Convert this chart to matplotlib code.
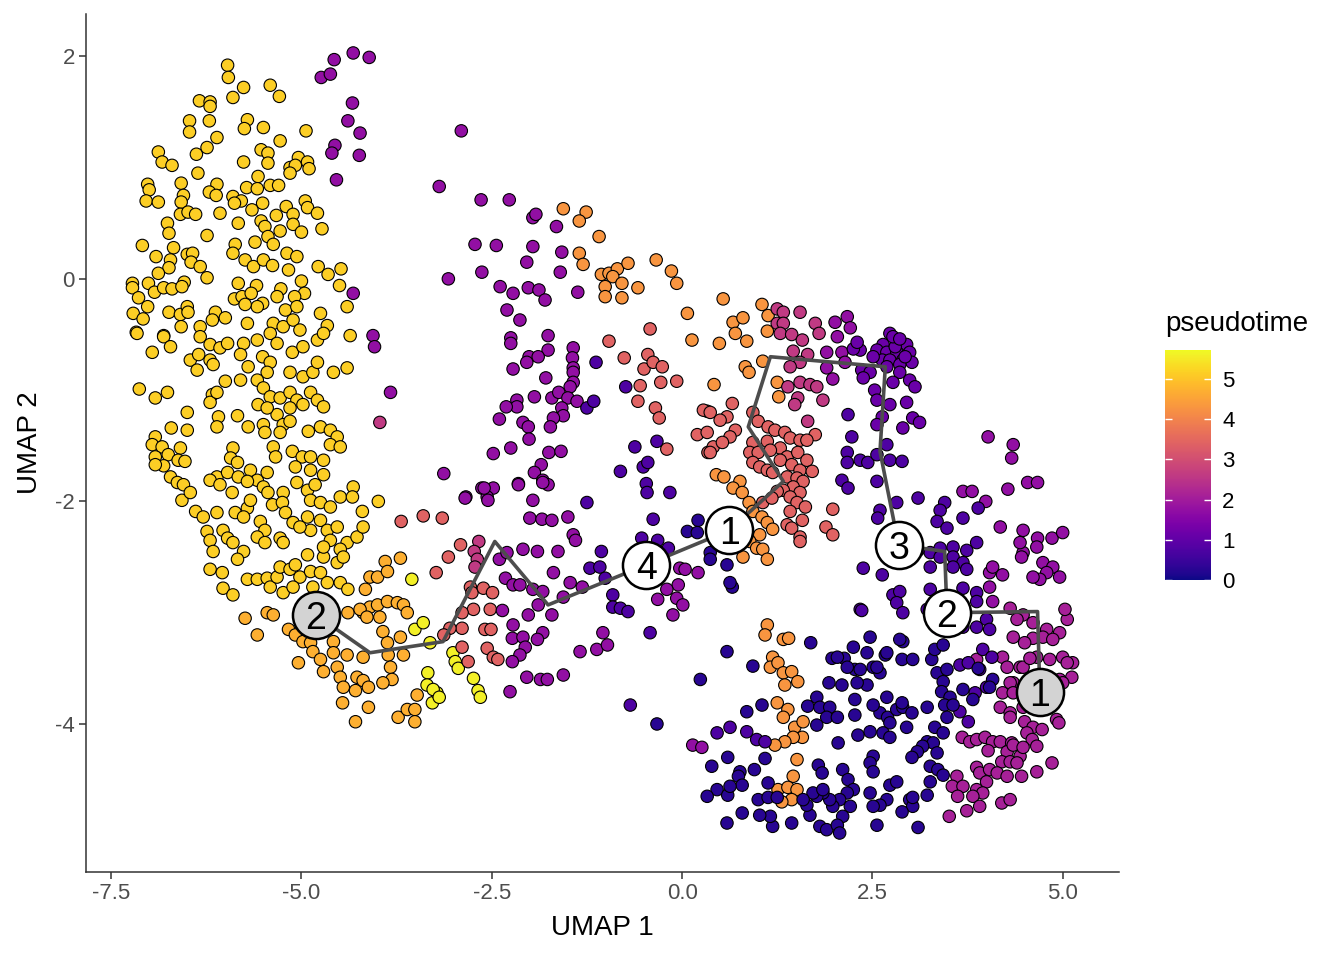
import numpy as np
import matplotlib.pyplot as plt

plt.rcParams['font.family'] = ['Liberation Sans', 'DejaVu Sans']
plt.rcParams['axes.unicode_minus'] = False

crescent_cells = [
    (-5.97, 1.92), (-5.96, 1.81), (-5.76, 1.72), (-5.41, 1.74), (-5.29, 1.64), (-5.90, 1.63),
    (-6.34, 1.60), (-6.20, 1.59), (-6.20, 1.55), (-6.47, 1.42), (-6.21, 1.42), (-5.71, 1.43),
    (-5.75, 1.35), (-5.50, 1.36), (-4.94, 1.33), (-6.47, 1.32), (-6.11, 1.27), (-5.28, 1.24),
    (-6.88, 1.14), (-6.38, 1.12), (-6.24, 1.18), (-5.53, 1.16), (-5.44, 1.13), (-5.76, 1.05),
    (-5.44, 1.04), (-5.04, 1.09), (-4.92, 1.05), (-5.15, 1.00), (-5.08, 1.02), (-4.90, 0.99),
    (-5.15, 0.95), (-6.83, 1.05), (-6.70, 1.02), (-6.36, 0.95), (-5.57, 0.92), (-7.02, 0.85),
    (-7.00, 0.80), (-6.58, 0.86), (-6.11, 0.85), (-6.21, 0.78), (-6.12, 0.75), (-5.72, 0.82),
    (-5.58, 0.81), (-5.41, 0.84), (-5.30, 0.84), (-7.04, 0.70), (-6.88, 0.69), (-6.55, 0.75),
    (-6.58, 0.69), (-5.90, 0.74), (-5.79, 0.70), (-5.88, 0.68), (-5.51, 0.68), (-5.65, 0.62),
    (-5.20, 0.65), (-4.95, 0.70), (-4.92, 0.64), (-4.79, 0.59), (-6.59, 0.58), (-6.49, 0.60),
    (-6.39, 0.58), (-6.07, 0.59), (-5.33, 0.57), (-5.11, 0.58), (-6.76, 0.50), (-6.74, 0.41),
    (-5.83, 0.50), (-5.53, 0.52), (-5.48, 0.47), (-5.11, 0.49), (-5.28, 0.43), (-5.00, 0.42),
    (-4.73, 0.45), (-6.24, 0.39), (-5.44, 0.38), (-5.37, 0.31), (-5.61, 0.33), (-5.87, 0.31),
    (-5.90, 0.23), (-7.09, 0.30), (-6.68, 0.28), (-6.91, 0.20), (-6.72, 0.17), (-6.74, 0.10),
    (-6.50, 0.22), (-6.43, 0.23), (-6.45, 0.15), (-6.33, 0.11), (-6.24, 0.01), (-6.88, 0.05),
    (-5.19, 0.23), (-5.06, 0.20), (-5.74, 0.17), (-5.63, 0.11), (-5.50, 0.17), (-5.38, 0.12),
    (-5.17, 0.08), (-4.78, 0.11), (-4.65, 0.04), (-4.48, 0.09), (-4.50, -0.06), (-7.22, -0.04),
    (-7.22, -0.08), (-7.01, -0.04), (-6.93, -0.12), (-6.81, -0.08), (-6.70, -0.09), (-6.54, -0.03),
    (-6.57, -0.07), (-5.83, -0.04), (-5.59, -0.06), (-5.27, -0.09), (-5.00, -0.02), (-4.96, -0.13),
    (-7.14, -0.17), (-7.02, -0.25), (-7.21, -0.31), (-7.08, -0.36), (-7.17, -0.48), (-6.74, -0.30),
    (-6.59, -0.32), (-6.50, -0.25), (-6.49, -0.30), (-5.88, -0.18), (-5.78, -0.16), (-5.66, -0.13),
    (-5.51, -0.22), (-5.58, -0.25), (-5.74, -0.23), (-5.32, -0.16), (-5.21, -0.28), (-5.09, -0.16),
    (-5.06, -0.25), (-4.75, -0.31), (-4.40, -0.25), (-6.13, -0.30), (-6.00, -0.35), (-6.17, -0.37),
    (-6.33, -0.43), (-6.58, -0.43), (-5.71, -0.40), (-5.37, -0.40), (-5.24, -0.43), (-5.11, -0.37),
    (-5.02, -0.46), (-4.66, -0.42), (-4.36, -0.51), (-6.81, -0.51),
    (-7.16, -0.49), (-6.81, -0.52), (-6.72, -0.61), (-6.96, -0.66), (-6.33, -0.52), (-6.20, -0.59),
    (-6.07, -0.62), (-5.97, -0.58), (-5.76, -0.58), (-5.58, -0.55), (-5.41, -0.49), (-5.32, -0.58),
    (-5.12, -0.66), (-4.98, -0.61), (-4.79, -0.55), (-4.71, -0.49), (-6.46, -0.73), (-6.35, -0.68),
    (-6.37, -0.82), (-6.20, -0.73), (-6.16, -0.77), (-5.80, -0.68), (-5.70, -0.79), (-5.51, -0.70),
    (-5.41, -0.75), (-5.45, -0.84), (-5.58, -0.91), (-5.15, -0.84), (-4.98, -0.88), (-4.85, -0.84),
    (-4.79, -0.75), (-4.58, -0.84), (-4.40, -0.80), (-6.00, -0.92), (-5.80, -0.91), (-7.13, -0.99),
    (-6.92, -1.07), (-6.76, -1.02), (-6.17, -1.04), (-6.20, -1.11), (-6.11, -1.02), (-5.50, -0.98),
    (-5.41, -1.06), (-5.28, -1.07), (-5.15, -1.02), (-5.06, -1.09), (-4.88, -1.02), (-4.79, -1.09),
    (-4.71, -1.15), (-4.98, -1.13), (-5.15, -1.16), (-5.32, -1.22), (-5.57, -1.13), (-5.45, -1.16),
    (-6.50, -1.20), (-6.09, -1.24), (-5.84, -1.23), (-6.11, -1.33), (-5.70, -1.33), (-5.50, -1.31),
    (-5.48, -1.38), (-5.24, -1.31), (-5.15, -1.28), (-5.28, -1.38), (-4.91, -1.37), (-4.75, -1.33),
    (-4.62, -1.36), (-4.53, -1.42), (-4.62, -1.49), (-4.49, -1.51), (-6.71, -1.34), (-6.50, -1.36),
    (-6.92, -1.42), (-6.96, -1.49), (-6.83, -1.51), (-6.59, -1.52), (-6.75, -1.58), (-6.92, -1.60),
    (-6.81, -1.68), (-6.92, -1.67), (-6.62, -1.63), (-6.53, -1.64), (-5.90, -1.52), (-5.93, -1.61),
    (-5.84, -1.65), (-5.37, -1.51), (-5.34, -1.60), (-5.12, -1.55), (-4.99, -1.60), (-4.88, -1.60),
    (-4.71, -1.63), (-5.08, -1.69), (-4.88, -1.72), (-4.71, -1.76), (-6.11, -1.78), (-5.97, -1.74),
    (-5.83, -1.78), (-5.67, -1.72), (-5.58, -1.81), (-5.45, -1.74), (-5.71, -1.82), (-6.72, -1.78),
    (-6.63, -1.83), (-6.55, -1.85), (-6.20, -1.81), (-6.07, -1.85), (-5.91, -1.92), (-5.50, -1.87),
    (-5.44, -1.92), (-5.24, -1.92), (-5.06, -1.83), (-4.92, -1.90), (-4.82, -1.85), (-4.88, -1.99),
    (-4.75, -2.01), (-4.62, -2.05), (-4.49, -1.96), (-4.32, -1.87), (-4.33, -1.96), (-3.99, -2.00),
    (-6.57, -1.99), (-6.46, -1.92), (-6.39, -2.09), (-6.29, -2.14), (-6.11, -2.10), (-5.87, -2.10),
    (-5.71, -2.06), (-5.67, -1.99), (-5.76, -2.14), (-5.54, -2.18), (-5.48, -2.26), (-5.38, -2.03),
    (-5.25, -2.01), (-5.21, -2.10), (-5.11, -2.19), (-4.92, -2.14), (-4.88, -2.26), (-4.75, -2.17),
    (-4.66, -2.26), (-4.53, -2.23), (-4.62, -2.35), (-4.40, -2.37), (-4.27, -2.32), (-4.19, -2.23),
    (-4.20, -2.09), (-6.24, -2.27), (-6.20, -2.35), (-6.03, -2.26), (-5.97, -2.33), (-5.90, -2.37),
    (-5.76, -2.45), (-6.16, -2.45), (-5.84, -2.52), (-5.58, -2.32), (-5.48, -2.37), (-5.28, -2.33),
    (-5.24, -2.37), (-5.02, -2.23), (-4.92, -2.48), (-4.71, -2.50), (-4.71, -2.41), (-4.49, -2.43),
    (-4.53, -2.55), (-4.45, -2.50), (-6.20, -2.61), (-6.04, -2.64), (-6.03, -2.78), (-5.90, -2.84),
    (-5.71, -2.70), (-5.58, -2.70), (-5.45, -2.69), (-5.41, -2.77), (-5.32, -2.68), (-5.28, -2.59),
    (-5.15, -2.61), (-5.08, -2.57), (-5.02, -2.68), (-4.88, -2.63), (-4.75, -2.64), (-4.66, -2.73),
    (-4.85, -2.77), (-5.24, -2.82), (-5.11, -2.77), (-4.49, -2.73), (-4.39, -2.79),
]
crescent_t = 5.15

crescent_tail_cells = [
    (-5.74, -3.05), (-5.58, -3.20), (-5.45, -3.00), (-5.37, -3.02), (-5.17, -3.15), (-5.08, -3.20),
    (-5.04, -3.45), (-4.98, -3.26), (-4.88, -3.27), (-4.85, -3.35), (-4.75, -3.42), (-4.71, -3.53),
    (-4.58, -3.26), (-4.58, -3.36), (-4.53, -3.49), (-4.49, -3.58), (-4.45, -3.67), (-4.46, -3.81),
    (-4.39, -3.00), (-4.40, -3.38), (-4.29, -3.70), (-4.27, -3.58), (-4.19, -3.61), (-4.12, -3.67),
    (-4.12, -3.85), (-4.29, -3.98), (-4.19, -3.40), (-4.19, -3.00), (-4.10, -2.95), (-4.00, -2.93),
    (-3.87, -2.90), (-3.74, -2.91), (-3.66, -2.93), (-3.61, -3.00), (-4.23, -2.97), (-3.97, -3.04),
    (-4.14, -3.04), (-3.93, -3.17), (-3.87, -3.27), (-3.86, -3.38), (-3.83, -3.49), (-3.81, -3.60),
    (-3.93, -3.63), (-3.70, -3.22), (-3.66, -3.38), (-3.73, -3.94), (-3.61, -3.87), (-3.51, -3.87),
    (-3.51, -3.98), (-3.48, -3.74), (-4.16, -2.79), (-4.10, -2.68), (-4.00, -2.68), (-3.90, -2.54),
    (-3.70, -2.51), (-3.87, -2.63),
]
crescent_tail_t = 4.7

bright_cells = [
    (-3.55, -2.70), (-3.51, -3.15), (-3.40, -3.09), (-3.31, -3.27), (-3.34, -3.54), (-3.28, -3.81),
    (-3.22, -3.72), (-3.01, -3.36), (-2.98, -3.44), (-2.94, -3.50), (-2.74, -3.59), (-2.68, -3.70),
    (-2.65, -3.76), (-3.35, -3.65), (-3.27, -3.69), (-3.19, -3.76),
]
bright_t = 5.6

orange_cells = [
    (-1.56, 0.63), (-1.26, 0.60), (-1.35, 0.52), (-1.09, 0.38), (-1.35, 0.23), (-1.30, 0.13),
    (-1.06, 0.04), (-0.96, 0.05), (-0.85, 0.09), (-0.91, 0.02), (-0.71, 0.14), (-0.79, -0.04),
    (-1.01, -0.07), (-1.01, -0.16), (-0.79, -0.17), (-0.58, -0.08), (-0.34, 0.17), (-0.14, 0.07),
    (-0.07, -0.04), (0.07, -0.31), (0.13, -0.55), (0.54, -0.18), (1.05, -0.23), (1.13, -0.33),
    (0.67, -0.39), (0.80, -0.35), (0.70, -0.49), (0.85, -0.56), (0.49, -0.58), (1.12, -0.47),
    (1.06, -0.74), (0.83, -0.79), (0.88, -0.84), (1.25, -0.93), (1.27, -1.06), (0.42, -0.95),
    (0.45, -1.76), (0.55, -1.78), (0.76, -1.82), (0.67, -1.88), (0.79, -1.92), (0.88, -2.01),
    (0.93, -2.09), (1.05, -2.14), (1.12, -2.19), (1.19, -2.25), (1.02, -2.30), (0.89, -2.36),
    (0.98, -2.42), (1.06, -2.43), (1.12, -2.52), (0.80, -2.50),
    (1.12, -3.11), (1.09, -3.20), (1.33, -3.24), (1.40, -3.23), (1.19, -3.40), (1.16, -3.49),
    (1.26, -3.45), (1.33, -3.54), (1.44, -3.53), (1.52, -3.62), (1.35, -3.65), (1.25, -3.81),
    (1.39, -3.87), (1.33, -3.94), (1.48, -4.03), (1.59, -3.98), (1.58, -4.12), (1.46, -4.12),
    (1.35, -4.16), (1.22, -4.19), (1.51, -4.32), (1.46, -4.47), (1.26, -4.59), (1.39, -4.57),
    (1.51, -4.59), (1.44, -4.68), (1.31, -4.70),
]
orange_t = 4.3

salmon_cells = [
    (-3.69, -2.18), (-3.40, -2.13), (-3.15, -2.15), (-3.23, -2.64), (-2.91, -2.39), (-3.07, -2.50),
    (-2.78, -2.77), (-2.76, -2.82), (-2.61, -2.78), (-2.49, -2.82), (-2.74, -2.97), (-2.89, -3.00),
    (-2.52, -2.97), (-2.59, -3.15), (-2.51, -3.15), (-2.89, -3.14), (-2.89, -3.31), (-3.05, -3.14),
    (-3.13, -3.20), (-2.56, -3.32), (-2.48, -3.40), (-2.42, -3.42), (-2.81, -3.44),
    (-0.96, -0.56), (-0.42, -0.45), (-0.76, -0.71), (-0.45, -0.68), (-0.50, -0.81), (-0.38, -0.75),
    (-0.26, -0.79), (-0.55, -0.96), (-0.28, -0.93), (-0.07, -0.92), (-0.58, -1.10), (-0.35, -1.16),
    (-0.30, -1.25), (-0.20, -1.53), (0.20, -1.40), (0.33, -1.19), (0.34, -1.56), (0.28, -1.18),
    (0.37, -1.20), (0.59, -1.24), (0.66, -1.12), (0.50, -1.27), (0.70, -1.36), (0.63, -1.42),
    (0.33, -1.38), (0.41, -1.51), (0.53, -1.47), (0.37, -1.56), (0.93, -1.20), (1.00, -1.28),
    (1.13, -1.33), (1.22, -1.36), (1.35, -1.38), (1.42, -1.43), (1.55, -1.45), (1.75, -1.40),
    (1.64, -1.45), (1.12, -1.46), (0.93, -1.47), (0.89, -1.56), (1.00, -1.56), (1.29, -1.52),
    (1.16, -1.54), (1.38, -1.60), (1.52, -1.56), (0.93, -1.65), (1.02, -1.69), (1.12, -1.72),
    (1.19, -1.74), (1.29, -1.63), (1.44, -1.67), (1.55, -1.72), (1.64, -1.63), (1.71, -1.73),
    (1.38, -1.78), (1.51, -1.79), (1.59, -1.82), (1.46, -1.87), (1.33, -1.90), (1.25, -1.91),
    (1.55, -1.92), (1.42, -1.96), (1.51, -2.01), (1.62, -2.05), (1.42, -2.09), (1.58, -2.17),
    (1.38, -2.21), (1.44, -2.24), (1.55, -2.32), (1.55, -2.36), (1.98, -2.07), (1.89, -2.23),
    (1.98, -2.30), (1.06, -2.01), (1.18, -1.97),
]
salmon_t = 3.4

pink_cells = [
    (-2.67, -2.36), (-2.73, -2.45), (-2.69, -2.52), (-2.72, -2.59), (-3.97, -1.29),
    (1.25, -0.27), (1.33, -0.30), (1.25, -0.40), (1.33, -0.40), (1.29, -0.49), (1.44, -0.50),
    (1.58, -0.55), (1.55, -0.30), (1.75, -0.40), (1.80, -0.49), (1.46, -0.65), (1.65, -0.68),
    (1.55, -0.75), (1.42, -0.79), (1.55, -0.93), (1.39, -0.97), (1.68, -0.95), (1.77, -0.97),
    (1.52, -1.07), (1.48, -1.13), (1.85, -1.09), (1.65, -1.28),
]
pink_t = 2.6

magenta_cells = [
    (4.31, -2.96), (4.48, -3.02), (4.40, -3.06), (4.61, -3.09), (4.79, -3.15), (4.96, -3.18),
    (5.06, -3.06), (5.03, -2.97), (4.74, -3.22), (4.87, -3.24), (4.61, -3.23), (4.35, -3.22),
    (4.50, -3.27), (4.66, -3.40), (4.83, -3.42), (5.00, -3.40), (5.13, -3.45), (5.12, -3.58),
    (4.96, -3.60), (4.21, -3.40), (4.27, -3.49), (4.44, -3.49), (4.35, -3.63), (4.21, -3.72),
    (4.18, -3.85), (4.31, -3.90), (4.92, -3.96), (3.87, -3.42), (4.48, -3.49), (4.57, -3.41),
    (5.06, -3.45), (5.00, -3.63), (4.31, -3.63), (4.35, -3.72), (4.50, -3.98), (4.31, -3.94),
    (4.48, -3.85), (4.95, -3.99), (4.61, -4.03), (4.73, -4.05), (4.53, -4.08), (4.60, -4.14),
    (4.66, -4.20), (3.68, -4.12), (3.78, -4.16), (3.87, -4.14), (3.98, -4.12), (4.08, -4.16),
    (4.18, -4.16), (4.33, -4.17), (4.02, -4.24), (4.27, -4.25), (4.35, -4.19), (4.44, -4.29),
    (4.48, -4.21), (4.20, -4.34), (4.31, -4.34), (4.40, -4.35), (3.87, -4.39), (3.91, -4.44),
    (4.04, -4.41), (4.14, -4.44), (4.27, -4.47), (4.00, -4.52), (3.87, -4.59), (3.95, -4.62),
    (3.82, -4.65), (3.91, -4.74), (4.20, -4.71), (4.31, -4.68), (3.61, -4.47), (3.55, -4.56),
    (3.69, -4.56), (3.62, -4.65), (3.74, -4.78), (3.51, -4.83), (4.46, -4.47), (4.66, -4.43),
    (4.86, -4.35),
]
magenta_t = 2.1

purple_cells = [
    (-4.57, 1.97), (-4.32, 2.03), (-4.11, 1.99), (-4.74, 1.81), (-4.62, 1.84), (-4.33, 1.58),
    (-4.39, 1.42), (-4.23, 1.31), (-4.56, 1.20), (-4.60, 1.13), (-4.24, 1.11), (-4.54, 0.89),
    (-4.32, -0.13), (-4.06, -0.51), (-4.04, -0.61), (-3.83, -1.02),
    (-2.90, 1.33), (-3.19, 0.83), (-2.64, 0.71), (-2.27, 0.71), (-1.96, 0.55), (-1.92, 0.58),
    (-1.65, 0.47), (-2.72, 0.31), (-2.44, 0.30), (-1.96, 0.29), (-1.58, 0.24), (-2.04, 0.15),
    (-1.60, 0.06), (-2.63, 0.06), (-3.07, 0.00), (-2.39, -0.07), (-2.22, -0.13), (-2.02, -0.08),
    (-1.88, -0.10), (-1.80, -0.19), (-1.37, -0.12), (-2.30, -0.28), (-2.13, -0.37), (-2.25, -0.53),
    (-2.25, -0.58), (-1.76, -0.51), (-1.76, -0.64), (-1.43, -0.62), (-1.44, -0.71), (-1.43, -0.80),
    (-1.43, -0.84), (-1.43, -0.93), (-1.47, -0.97), (-2.01, -0.70), (-2.04, -0.75), (-1.89, -0.70),
    (-2.22, -0.81), (-1.79, -0.89), (-1.94, -1.06), (-1.71, -1.07), (-1.62, -1.02), (-1.50, -1.07),
    (-1.38, -1.10), (-1.58, -1.16), (-1.56, -1.23), (-1.69, -1.25), (-1.73, -1.33), (-2.17, -1.09),
    (-2.17, -1.15), (-2.31, -1.15), (-2.40, -1.26), (-2.09, -1.29), (-2.02, -1.33), (-2.01, -1.44),
    (-2.25, -1.52), (-2.48, -1.57), (-1.75, -1.56), (-1.59, -1.55), (-1.85, -1.67), (-1.94, -1.74),
    (-1.83, -1.81), (-1.76, -1.85), (-2.15, -1.84), (-3.13, -1.75), (-2.63, -1.88), (-2.48, -1.88),
    (-2.84, -1.96), (-2.56, -1.96),
    (-2.85, -1.97), (-2.60, -1.88), (-2.55, -1.99), (-2.15, -1.85), (-1.96, -1.99), (-1.83, -1.83),
    (-2.00, -2.15), (-1.84, -2.16), (-1.71, -2.17), (-1.50, -2.14), (-1.43, -2.30), (-1.40, -2.35),
    (-2.09, -2.43), (-1.90, -2.45), (-1.63, -2.45), (-2.40, -2.52), (-2.30, -2.46), (-2.32, -2.69),
    (-2.22, -2.75), (-2.13, -2.75), (-1.96, -2.79), (-1.83, -2.81), (-1.69, -2.64), (-1.47, -2.73),
    (-1.31, -2.77), (-1.56, -2.86), (-1.89, -2.93), (-1.71, -3.02), (-2.02, -3.02), (-2.22, -3.11),
    (-2.23, -3.23), (-2.09, -3.22), (-2.06, -3.31), (-1.83, -3.18), (-1.90, -3.24), (-2.13, -3.38),
    (-2.23, -3.44), (-2.04, -3.58), (-1.86, -3.60), (-1.77, -3.60), (-1.56, -3.56), (-2.26, -3.71),
    (-1.34, -3.35), (-1.12, -3.33), (-0.98, -3.29), (-1.04, -3.18), (-2.36, -2.98),
    (-0.03, -2.60), (0.04, -2.61), (-0.05, -2.75), (-0.20, -2.79), (-0.32, -2.88), (-0.07, -2.87),
    (0.01, -2.93), (-0.12, -3.02), (0.21, -2.64),
    (2.01, -0.39), (2.17, -0.34), (2.21, -0.44), (2.04, -0.52), (1.90, -0.66), (2.10, -0.66),
    (2.14, -0.75), (1.90, -0.80), (1.98, -0.90),
    (4.02, -1.42), (4.35, -1.49), (4.33, -1.61), (4.54, -1.83), (4.67, -1.83), (4.28, -1.89),
    (3.69, -1.91), (3.81, -1.91), (3.99, -2.00), (4.18, -2.23), (4.48, -2.26), (4.67, -2.33),
    (4.86, -2.33), (5.00, -2.28), (4.48, -2.46), (4.66, -2.41), (4.44, -2.37), (4.04, -2.64),
    (4.08, -2.59), (4.21, -2.66), (4.74, -2.55), (4.87, -2.59), (4.79, -2.64), (4.96, -2.68),
    (4.70, -2.70), (4.61, -2.68), (4.46, -2.50), (4.04, -2.77), (4.08, -2.90),
    (0.14, -4.19), (0.26, -4.21),
]
purple_t = 1.75

violet_cells = [
    (2.73, -0.49), (2.82, -0.57), (2.95, -0.59), (2.64, -0.59), (2.56, -0.64), (2.69, -0.66),
    (2.82, -0.66), (2.99, -0.66), (2.63, -0.73), (2.73, -0.73), (2.90, -0.73), (3.02, -0.75),
    (2.86, -0.77), (2.69, -0.79), (2.51, -0.70), (2.34, -0.64), (2.36, -0.82), (2.47, -0.84),
    (2.38, -0.89), (2.86, -0.84), (2.77, -0.93), (2.99, -0.91), (3.06, -0.97), (2.53, -1.00),
    (2.56, -1.09), (2.73, -1.13), (2.95, -1.11), (2.63, -1.24), (2.56, -1.31), (3.03, -1.25),
    (3.12, -1.29), (2.90, -1.34), (2.25, -0.63), (2.30, -0.57), (2.80, -0.61), (2.93, -0.70),
    (2.77, -0.52), (2.86, -0.54),
]
violet_t = 1.15

indigo_cells = [
    (-1.13, -0.75), (-1.25, -1.16), (-1.16, -1.10), (-0.74, -0.97), (-0.33, -1.46), (-0.62, -1.51),
    (-0.51, -1.69), (-0.45, -1.65), (-0.81, -1.73), (-0.47, -1.84),
    (-1.25, -2.01), (-1.06, -2.45), (-1.21, -2.60), (-1.08, -2.59), (-0.91, -2.84), (-0.91, -2.95),
    (-0.81, -2.96), (-0.71, -2.99), (-1.01, -2.69), (-0.46, -1.92), (-0.16, -1.92), (-0.38, -2.16),
    (-0.53, -2.33), (-0.32, -2.35), (-0.18, -2.42), (-0.42, -3.18), (-0.68, -3.83),
    (2.18, -1.22), (2.23, -1.42), (2.17, -1.56), (2.17, -1.65), (2.34, -1.63), (2.44, -1.65),
    (2.56, -1.58), (2.69, -1.49), (2.73, -1.63), (2.89, -1.64), (2.10, -1.81), (2.18, -1.88),
    (2.56, -1.82), (3.10, -1.97), (2.82, -2.01), (2.60, -2.08), (2.57, -2.15), (3.45, -2.01),
    (3.39, -2.08), (3.69, -2.15), (3.89, -2.06), (3.35, -2.18), (3.48, -2.24), (3.26, -2.46),
    (3.39, -2.42), (3.56, -2.41), (3.74, -2.44), (3.56, -2.50), (3.69, -2.55), (3.87, -2.37),
    (3.10, -2.44), (3.26, -2.59), (3.39, -2.50), (3.56, -2.59), (3.74, -2.61), (2.38, -2.60),
    (2.63, -2.66), (2.77, -2.84), (2.86, -2.81), (2.82, -2.91), (2.90, -3.00), (3.26, -2.79),
    (3.39, -2.88), (3.69, -2.78), (3.87, -2.82), (3.87, -2.90), (2.34, -2.97), (3.22, -2.97),
    (3.30, -3.09), (3.69, -3.13), (3.87, -3.13), (4.00, -3.06), (4.04, -3.15), (2.36, -2.98),
    (4.00, -3.67), (3.85, -3.72), (3.65, -3.89), (3.76, -3.98), (3.65, -3.47), (3.76, -3.45),
    (3.91, -3.51), (3.95, -3.33), (4.07, -3.40),
    (0.46, -4.08), (0.63, -4.03), (0.85, -4.07), (0.98, -4.14), (1.09, -4.16),
]
indigo_t = 0.75

navy_cells = [
    (0.59, -3.35), (0.24, -3.60), (0.21, -2.17), (0.07, -2.27), (0.20, -2.28), (0.37, -2.46),
    (0.59, -2.57), (0.66, -2.77), (0.37, -2.52), (-0.33, -4.00), (0.63, -2.73),
    (1.69, -3.27), (2.47, -3.22), (2.25, -3.31), (2.43, -3.36), (1.97, -3.41), (2.13, -3.41),
    (2.67, -3.38), (2.90, -3.26), (2.89, -3.42), (3.03, -3.42), (0.93, -3.48), (2.51, -3.49),
    (2.27, -3.51), (2.60, -3.54), (1.93, -3.63), (2.10, -3.65), (2.43, -3.65), (3.28, -3.42),
    (3.32, -3.33), (3.43, -3.29), (3.35, -3.54), (3.43, -3.62), (3.41, -3.71), (3.52, -3.76),
    (3.45, -3.83), (3.22, -3.85), (3.48, -3.94), (1.77, -3.76), (1.65, -3.84), (1.81, -3.85),
    (1.94, -3.85), (1.90, -3.94), (2.04, -3.94), (1.77, -4.01), (2.27, -3.78), (2.27, -3.92),
    (2.60, -3.90), (2.70, -3.94), (2.82, -3.87), (2.90, -3.85), (3.02, -3.90), (2.73, -3.99),
    (2.64, -4.08), (2.47, -4.07), (2.31, -4.10), (2.73, -4.12), (2.95, -4.03), (3.32, -4.03),
    (3.43, -4.08), (0.85, -3.89), (1.05, -3.83), (3.22, -4.16), (3.30, -4.17), (3.16, -4.20),
    (3.09, -4.25), (3.02, -4.30), (3.35, -4.26), (2.05, -4.17), (2.51, -4.29), (2.47, -4.35),
    (1.79, -4.37), (1.84, -4.44), (2.11, -4.41), (2.18, -4.50), (2.51, -4.43), (3.26, -4.38),
    (3.36, -4.41), (3.43, -4.46), (3.26, -4.52), (3.22, -4.64), (2.99, -4.68), (3.03, -4.74),
    (2.73, -4.55), (2.82, -4.52), (2.69, -4.68), (2.60, -4.73), (2.47, -4.62), (2.51, -4.74),
    (2.25, -4.59), (2.17, -4.62), (2.07, -4.68), (2.21, -4.74), (2.11, -4.83), (1.98, -4.74),
    (1.94, -4.68), (1.85, -4.62), (1.77, -4.65), (1.68, -4.82), (1.81, -4.92), (1.90, -4.95),
    (2.04, -4.91), (2.07, -4.98), (2.56, -4.91), (3.10, -4.93), (2.89, -4.79), (3.03, -4.66),
    (1.44, -4.89), (1.19, -4.92), (1.16, -4.83), (1.02, -4.82), (0.79, -4.80), (0.59, -4.89),
    (1.00, -4.68), (1.13, -4.66), (1.25, -4.66), (1.64, -4.73), (1.72, -4.62), (1.85, -4.59),
    (1.59, -4.68), (1.09, -4.31), (0.95, -4.41), (0.76, -4.43), (0.74, -4.47), (0.79, -4.55),
    (0.60, -4.30), (0.39, -4.38), (0.46, -4.59), (0.33, -4.65), (0.60, -4.64), (0.63, -4.56),
    (1.13, -4.53), (2.86, -3.24), (3.48, -3.51), (3.56, -3.83), (3.69, -3.69), (3.82, -3.78),
    (4.08, -3.60), (4.04, -3.67), (3.89, -3.50), (2.69, -3.36), (2.56, -3.49), (2.34, -3.51),
    (2.17, -3.49), (2.04, -3.40), (2.30, -3.63), (2.51, -3.83), (2.69, -3.76), (2.89, -3.81),
]
navy_t = 0.25

# principal graph: path through the cells, then labelled nodes
traj_x = [-4.81, -4.10, -3.14, -2.46, -1.76, -0.47, 0.62, 1.33, 0.87, 1.16, 2.67,
          2.60, 2.78, 2.85, 3.45, 3.48, 4.67, 4.70]
traj_y = [-3.02, -3.36, -3.26, -2.36, -2.93, -2.57, -2.26, -1.82, -1.33, -0.70, -0.79,
          -1.55, -2.17, -2.39, -2.45, -3.00, -2.99, -3.71]
leaf_x = [-4.81, 4.70]
leaf_y = [-3.02, -3.71]
leaf_labels = ["2", "1"]
branch_x = [-0.47, 0.62, 2.85, 3.48]
branch_y = [-2.57, -2.26, -2.39, -3.00]
branch_labels = ["4", "1", "3", "2"]

groups = [
    (crescent_cells, crescent_t), (crescent_tail_cells, crescent_tail_t), (bright_cells, bright_t),
    (orange_cells, orange_t), (salmon_cells, salmon_t), (pink_cells, pink_t),
    (magenta_cells, magenta_t), (purple_cells, purple_t), (violet_cells, violet_t),
    (indigo_cells, indigo_t), (navy_cells, navy_t),
]
xs, ys, ts = [], [], []
for cells, t in groups:
    for x, y in cells:
        xs.append(x)
        ys.append(y)
        ts.append(t)
xs = np.array(xs)
ys = np.array(ys)
ts = np.array(ts)

fig = plt.figure(figsize=(13.44, 9.6), dpi=100)
ax = fig.add_axes([0.064, 0.0917, 0.7686, 0.8937])

sc = ax.scatter(xs, ys, c=ts, cmap="plasma", vmin=0, vmax=5.72, s=80,
                edgecolors="black", linewidths=0.8, zorder=2)

ax.plot(traj_x, traj_y, color="#4d4d4d", lw=2.6, zorder=3, solid_capstyle="butt")
ax.scatter(leaf_x, leaf_y, s=1150, facecolor="lightgray", edgecolor="black", linewidths=1.8, zorder=4)
ax.scatter(branch_x, branch_y, s=1150, facecolor="white", edgecolor="black", linewidths=1.8, zorder=4)
for x, y, lab in zip(leaf_x + branch_x, leaf_y + branch_y, leaf_labels + branch_labels):
    ax.text(x, y, lab, ha="center", va="center_baseline", fontsize=27, zorder=5)

ax.set_xlim(-7.83, 5.74)
ax.set_ylim(-5.33, 2.38)
ax.set_xticks([-7.5, -5.0, -2.5, 0.0, 2.5, 5.0])
ax.set_xticklabels(["-7.5", "-5.0", "-2.5", "0.0", "2.5", "5.0"])
ax.set_yticks([-4, -2, 0, 2])
for side in ["top", "right"]:
    ax.spines[side].set_visible(False)
for side in ["left", "bottom"]:
    ax.spines[side].set_linewidth(1.1)
    ax.spines[side].set_color("#333333")
ax.tick_params(labelsize=16, labelcolor="#4d4d4d", color="#333333", length=5, width=1.1, pad=3)
ax.set_xlabel("UMAP 1", fontsize=20, labelpad=8)
ax.set_ylabel("UMAP 2", fontsize=20, labelpad=9)

cax = fig.add_axes([0.8668, 0.3958, 0.0342, 0.2396])
cb = fig.colorbar(sc, cax=cax, ticks=[0, 1, 2, 3, 4, 5])
cb.outline.set_visible(False)
cax.tick_params(left=True, right=True, labelleft=False, labelright=True, direction="in",
                color="white", length=5, width=1, labelsize=16, pad=8)
fig.text(0.8668, 0.663, "pseudotime", fontsize=20, ha="left", va="center")

fig.savefig("out.png", dpi=100)
